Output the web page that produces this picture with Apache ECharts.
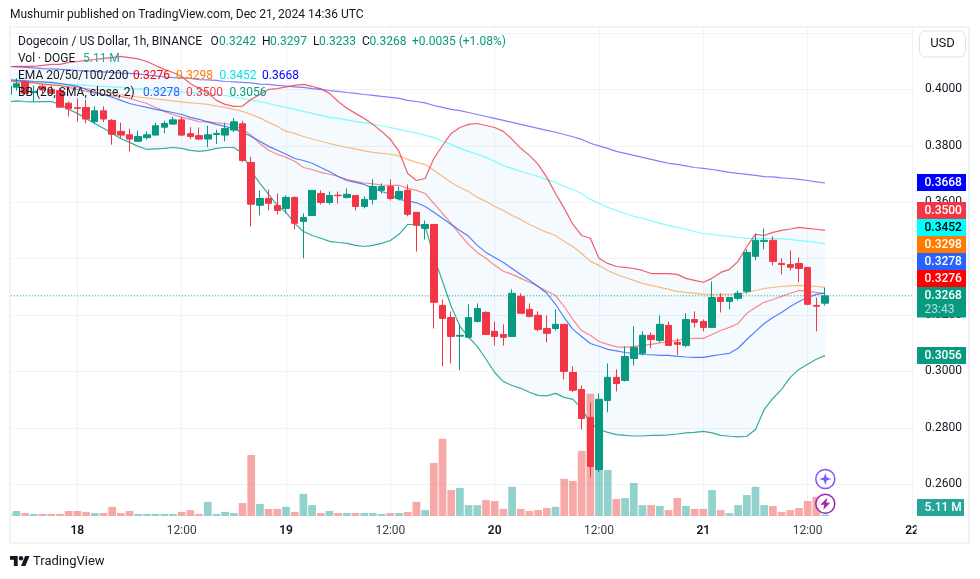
<!DOCTYPE html>
<html>
<head>
<meta charset="utf-8">
<title>DOGEUSD</title>
<script src="https://cdn.jsdelivr.net/npm/echarts@6/dist/echarts.min.js"></script>
<style>
  html, body { margin: 0; padding: 0; background: #fff; }
  #main { width: 980px; height: 579px; }
</style>
</head>
<body>
<div id="main"></div>
<script>
// hourly candles, first one is Dec 17 16:00 (only its right edge shows in the frame)
const opens = [.3982,.4008,.4028,.3989,.4011,.4000,.3996,.3951,.3935,.3936,.3886,.3924,.3890,.3851,.3839,.3816,.3829,.3838,.3866,.3877,.3892,.3843,.3836,.3824,.3840,.3838,.3856,.3878,.3741,.3589,.3613,.3588,.3578,.3617,.3532,.3553,.3631,.3599,.3625,.3617,.3624,.3585,.3610,.3642,.3656,.3613,.3642,.3564,.3507,.3521,.3234,.3191,.3125,.3121,.3177,.3209,.3142,.3131,.3124,.3266,.3220,.3199,.3152,.3152,.3167,.2996,.2936,.2837,.2652,.2897,.2979,.2968,.3046,.3064,.3128,.3110,.3163,.3103,.3092,.3184,.3177,.3156,.3262,.3248,.3259,.3284,.3408,.3461,.3465,.3383,.3379,.3383,.3369,.3234,.3242];
const closes = [.4011,.4020,.3986,.3993,.3998,.3986,.3937,.3931,.3933,.3895,.3924,.3895,.3841,.3838,.3824,.3833,.3839,.3871,.3879,.3892,.3838,.3833,.3824,.3839,.3844,.3861,.3885,.3748,.3593,.3613,.3596,.3571,.3617,.3525,.3546,.3642,.3599,.3624,.3623,.3628,.3585,.3610,.3656,.3656,.3613,.3638,.3557,.3518,.3521,.3245,.3188,.3124,.3128,.3191,.3223,.3131,.3124,.3121,.3277,.3206,.3195,.3149,.3135,.3167,.3000,.2933,.2833,.2663,.2901,.2979,.2957,.3053,.3085,.3128,.3113,.3167,.3092,.3096,.3184,.3174,.3156,.3262,.3248,.3262,.3277,.3422,.3465,.3465,.3390,.3379,.3369,.3365,.3238,.3231,.3268];
const highs = [.4011,.4039,.4029,.4014,.4018,.4014,.4003,.3957,.3968,.3964,.3940,.3940,.3895,.3882,.3861,.3854,.3851,.3882,.3889,.3903,.3903,.3866,.3865,.3871,.3857,.3882,.3898,.3889,.3761,.3642,.3645,.3631,.3624,.3621,.3560,.3642,.3642,.3638,.3638,.3649,.3624,.3621,.3681,.3667,.3681,.3656,.3663,.3564,.3535,.3521,.3255,.3213,.3167,.3238,.3241,.3213,.3177,.3167,.3291,.3277,.3241,.3213,.3199,.3220,.3167,.3018,.2950,.2890,.2922,.3028,.3007,.3089,.3160,.3142,.3138,.3199,.3177,.3117,.3206,.3213,.3184,.3319,.3277,.3262,.3287,.3433,.3489,.3507,.3479,.3401,.3429,.3404,.3369,.3262,.3297];
const lows = [.3982,.3996,.3982,.3957,.3986,.3982,.3936,.3904,.3886,.3880,.3877,.3884,.3804,.3827,.3780,.3816,.3822,.3837,.3845,.3875,.3834,.3824,.3820,.3795,.3806,.3816,.3849,.3742,.3514,.3553,.3571,.3557,.3560,.3504,.3401,.3553,.3592,.3592,.3596,.3613,.3571,.3578,.3592,.3631,.3606,.3606,.3550,.3425,.3468,.3152,.3018,.3028,.3004,.3117,.3174,.3131,.3092,.3092,.3124,.3206,.3191,.3142,.3103,.3145,.2972,.2926,.2794,.2624,.2642,.2855,.2929,.2964,.3021,.3057,.3082,.3103,.3092,.3057,.3085,.3156,.3142,.3156,.3209,.3220,.3252,.3277,.3394,.3433,.3376,.3344,.3358,.3316,.3234,.3142,.3233];
// volume in millions of DOGE
const volumes = [10,17,10,7,7,7,7,17,17,14,10,10,31,10,17,7,7,7,7,7,14,20,7,48,7,14,10,44,207,41,24,24,31,14,75,37,10,17,10,10,10,10,10,7,10,10,14,48,20,180,262,88,95,37,37,54,51,24,99,24,17,20,27,31,126,119,221,415,211,156,58,61,112,37,37,34,20,61,34,24,24,88,20,10,37,71,99,37,34,14,20,27,51,65,5.11];

const ema20 = [.4030,.4027,.4025,.4023,.4019,.4016,.4014,.4007,.4000,.3993,.3988,.3982,.3977,.3975,.3968,.3959,.3950,.3936,.3922,.3911,.3901,.3894,.3886,.3885,.3881,.3879,.3872,.3858,.3837,.3808,.3784,.3770,.3759,.3745,.3723,.3716,.3706,.3699,.3691,.3681,.3674,.3668,.3665,.3661,.3660,.3660,.3649,.3642,.3631,.3596,.3560,.3525,.3486,.3450,.3422,.3401,.3376,.3355,.3344,.3330,.3316,.3301,.3284,.3269,.3230,.3184,.3145,.3128,.3106,.3096,.3087,.3085,.3089,.3092,.3096,.3101,.3106,.3110,.3115,.3117,.3117,.3131,.3145,.3156,.3170,.3206,.3227,.3245,.3255,.3266,.3277,.3287,.3284,.3280,.3276];
const ema50 = [.4030,.4028,.4025,.4023,.4019,.4016,.4012,.4011,.4007,.4003,.4000,.3996,.3989,.3982,.3977,.3973,.3970,.3966,.3963,.3959,.3956,.3952,.3950,.3947,.3941,.3936,.3929,.3922,.3911,.3899,.3883,.3869,.3851,.3844,.3833,.3824,.3816,.3808,.3801,.3794,.3789,.3782,.3777,.3773,.3770,.3764,.3752,.3741,.3734,.3713,.3691,.3670,.3652,.3638,.3617,.3603,.3585,.3571,.3553,.3539,.3521,.3507,.3493,.3482,.3461,.3443,.3418,.3390,.3376,.3358,.3344,.3333,.3323,.3312,.3305,.3298,.3291,.3284,.3280,.3277,.3273,.3273,.3273,.3273,.3273,.3280,.3287,.3294,.3298,.3301,.3303,.3305,.3303,.3301,.3298];
const ema100 = [.4036,.4034,.4032,.4028,.4025,.4023,.4019,.4018,.4016,.4014,.4012,.4011,.4009,.4007,.4003,.4002,.4000,.3996,.3995,.3993,.3991,.3989,.3987,.3986,.3982,.3979,.3973,.3968,.3961,.3957,.3950,.3943,.3936,.3929,.3922,.3915,.3908,.3901,.3897,.3892,.3886,.3881,.3876,.3871,.3865,.3858,.3851,.3846,.3837,.3830,.3816,.3805,.3791,.3780,.3770,.3759,.3745,.3730,.3720,.3709,.3700,.3691,.3681,.3670,.3656,.3645,.3631,.3610,.3596,.3582,.3571,.3560,.3550,.3543,.3534,.3525,.3518,.3511,.3504,.3496,.3489,.3486,.3482,.3479,.3475,.3472,.3472,.3472,.3472,.3470,.3468,.3464,.3461,.3457,.3452];
const ema200 = [.4082,.4080,.4078,.4076,.4074,.4073,.4071,.4069,.4067,.4066,.4064,.4062,.4060,.4058,.4057,.4055,.4051,.4048,.4044,.4042,.4041,.4039,.4035,.4034,.4032,.4028,.4027,.4025,.4023,.4019,.4018,.4014,.4012,.4009,.4007,.4003,.4000,.3996,.3993,.3989,.3986,.3982,.3979,.3975,.3972,.3968,.3961,.3957,.3952,.3943,.3936,.3929,.3925,.3918,.3911,.3904,.3897,.3890,.3883,.3876,.3869,.3862,.3855,.3848,.3840,.3832,.3823,.3809,.3800,.3791,.3780,.3773,.3766,.3759,.3752,.3745,.3738,.3734,.3729,.3723,.3720,.3716,.3711,.3706,.3702,.3699,.3695,.3691,.3690,.3686,.3684,.3681,.3677,.3672,.3668];
const bbBasis = [.4034,.4032,.4030,.4028,.4027,.4025,.4021,.4016,.4011,.4000,.3989,.3982,.3972,.3961,.3950,.3943,.3936,.3929,.3924,.3918,.3911,.3901,.3894,.3885,.3876,.3869,.3860,.3847,.3833,.3816,.3798,.3784,.3770,.3755,.3748,.3738,.3723,.3709,.3691,.3677,.3670,.3663,.3649,.3638,.3628,.3610,.3605,.3598,.3585,.3564,.3543,.3521,.3500,.3479,.3447,.3422,.3404,.3386,.3365,.3344,.3323,.3301,.3277,.3238,.3191,.3149,.3124,.3099,.3089,.3078,.3073,.3067,.3064,.3060,.3059,.3057,.3057,.3053,.3051,.3050,.3050,.3055,.3060,.3064,.3082,.3113,.3142,.3170,.3191,.3209,.3230,.3248,.3262,.3273,.3278];
const bbUpper = [.4080,.4082,.4082,.4082,.4085,.4089,.4089,.4096,.4099,.4103,.4106,.4110,.4113,.4117,.4113,.4108,.4099,.4085,.4071,.4060,.4046,.4021,.4003,.3986,.3961,.3947,.3940,.3941,.3965,.3982,.4000,.4003,.4009,.4014,.4018,.4011,.4002,.3986,.3957,.3933,.3915,.3897,.3876,.3851,.3823,.3780,.3702,.3677,.3684,.3755,.3801,.3844,.3865,.3876,.3879,.3872,.3865,.3851,.3823,.3791,.3766,.3734,.3688,.3631,.3578,.3521,.3482,.3472,.3401,.3383,.3372,.3369,.3365,.3358,.3347,.3347,.3347,.3344,.3330,.3323,.3316,.3330,.3351,.3362,.3390,.3443,.3486,.3482,.3493,.3500,.3505,.3511,.3507,.3504,.3500];
const bbLower = [.3955,.3959,.3957,.3956,.3957,.3957,.3947,.3929,.3915,.3897,.3879,.3862,.3844,.3826,.3812,.3798,.3787,.3789,.3791,.3794,.3791,.3784,.3780,.3784,.3791,.3794,.3794,.3773,.3709,.3667,.3628,.3589,.3564,.3525,.3496,.3482,.3472,.3461,.3457,.3454,.3447,.3443,.3447,.3454,.3464,.3486,.3521,.3521,.3514,.3408,.3319,.3230,.3160,.3121,.3089,.3043,.2996,.2964,.2950,.2940,.2926,.2915,.2913,.2922,.2908,.2901,.2869,.2816,.2794,.2784,.2776,.2773,.2771,.2771,.2773,.2773,.2775,.2778,.2782,.2784,.2787,.2782,.2773,.2770,.2768,.2770,.2794,.2865,.2904,.2936,.2979,.3007,.3025,.3043,.3056];

const lastPrice = 0.3268;
const priceLabels = ['0.3668','0.3500','0.3452','0.3298','0.3278','0.3276','0.3268','0.3056'];

const GREEN = '#089981', RED = '#f23645', INK = '#131722';
const FONT = 'Roboto, sans-serif';

// Dec 17 16:00 up to Dec 22 00:00
const categories = [];
for (let i = 0, t = Date.UTC(2024, 11, 17, 16); i <= 104; i++, t += 3600000) {
  const d = new Date(t);
  categories.push(d.getUTCHours() === 0 ? '{day|' + d.getUTCDate() + '}' : d.getUTCHours() + ':00');
}
const isTick = (i) => i % 12 === 8;

const candleData = opens.map((o, i) => [o, closes[i], lows[i], highs[i]]);
const volumeData = volumes.map((v, i) => ({
  value: v,
  itemStyle: { color: closes[i] >= opens[i] ? 'rgba(38,166,154,0.5)' : 'rgba(239,83,80,0.5)' }
}));

const lineSeries = (name, data, color) => ({
  name, type: 'line', data, xAxisIndex: 0, yAxisIndex: 0, z: 3,
  showSymbol: false, silent: true, lineStyle: { color, width: 1.2 }
});

// fill between the Bollinger bands
const bandSeries = {
  type: 'custom', xAxisIndex: 0, yAxisIndex: 0, z: 1, silent: true, data: [[0, 0]],
  renderItem: (params, api) => {
    const top = bbUpper.map((v, i) => api.coord([i, v]));
    const bottom = bbLower.map((v, i) => api.coord([i, v])).reverse();
    return { type: 'polygon', shape: { points: top.concat(bottom) }, style: { fill: 'rgba(33,150,243,0.05)' } };
  }
};

function text(str, x, y, fill, font) {
  return { type: 'text', z: 101, silent: true,
    style: { text: str, x, y, fill, font: font || ('12px ' + FONT), verticalAlign: 'middle' } };
}

function tag(str, y, h, bg, color) {
  return [
    { type: 'rect', z: 100, silent: true, shape: { x: 917, y, width: 49, height: h }, style: { fill: bg } },
    text(str, 924.5, y + 8.5, color || '#fff', '500 12px ' + FONT)
  ];
}

function legendRow(y, parts) {
  return parts.map((p) => text(p[0], p[1], y, p[2] || INK));
}

const purple = '#7e57ff', magenta = '#9c27b0';
const shifted = (pts, dx, dy, k) => pts.map((p) => [dx + p[0] * k, dy + p[1] * k]);

const graphics = [
  // hides what hangs out left of the frame and the tip of the last time label
  { type: 'rect', z: 50, silent: true, shape: { x: 0, y: 0, width: 10, height: 579 }, style: { fill: '#fff' } },
  { type: 'rect', z: 50, silent: true, shape: { x: 916.5, y: 518, width: 6, height: 24 }, style: { fill: '#fff' } },
  { type: 'rect', z: 99, silent: true, shape: { x: 10, y: 27, width: 959, height: 516 },
    style: { fill: 'none', stroke: '#f0f3fa', lineWidth: 2 } },

  text('Mushumir published on TradingView.com, Dec 21, 2024 14:36 UTC', 10, 15, INK),

  ...legendRow(42, [['Dogecoin / US Dollar, 1h, BINANCE', 18], ['O', 210.5], ['0.3242', 219, GREEN], ['H', 262], ['0.3297', 270, GREEN],
    ['L', 313], ['0.3233', 319, GREEN], ['C', 362], ['0.3268', 369.5, GREEN], ['+0.0035 (+1.08%)', 412, GREEN]]),
  ...legendRow(59, [['Vol · DOGE', 18], ['5.11 M', 83, '#26a69a']]),
  ...legendRow(75.5, [['EMA 20/50/100/200', 18], ['0.3276', 133, '#ff0000'], ['0.3298', 176, '#ff7b00'], ['0.3452', 219.5, '#00e5e5'], ['0.3668', 262, '#0000ff']]),
  ...legendRow(93, [['BB (20, SMA, close, 2)', 18], ['0.3278', 143, '#2962ff'], ['0.3500', 186, RED], ['0.3056', 229.5, GREEN]]),

  // currency button
  { type: 'rect', z: 100, silent: true, shape: { x: 919.5, y: 31, width: 46, height: 26, r: 6 },
    style: { fill: '#fff', stroke: '#e0e3eb', lineWidth: 1 } },
  { type: 'text', z: 101, silent: true, style: { text: 'USD', x: 942.5, y: 44, fill: INK, font: '13px ' + FONT, align: 'center', verticalAlign: 'middle' } },

  // price tags on the scale
  ...tag(priceLabels[0], 174, 17, '#0000ff'),
  ...tag(priceLabels[1], 202, 17, RED),
  ...tag(priceLabels[2], 219, 17, '#00ffff', '#000'),
  ...tag(priceLabels[3], 236, 17, '#ff7b00'),
  ...tag(priceLabels[4], 253, 17, '#2962ff'),
  ...tag(priceLabels[5], 270, 17, '#ff0000'),
  { type: 'rect', z: 100, silent: true, shape: { x: 917, y: 287, width: 49, height: 30.5 }, style: { fill: GREEN } },
  text(priceLabels[6], 924.5, 295.7, '#fff', '500 12px ' + FONT),
  text('23:43', 924.5, 309.5, 'rgba(255,255,255,0.7)'),
  ...tag(priceLabels[7], 347, 17, GREEN),
  { type: 'rect', z: 100, silent: true, shape: { x: 917, y: 499, width: 47, height: 17 }, style: { fill: '#26a69a' } },
  text('5.11 M', 924.5, 507.5, '#fff', '500 12px ' + FONT),

  // event markers
  { type: 'circle', z: 60, silent: true, shape: { cx: 825.3, cy: 479, r: 9.5 }, style: { fill: 'rgba(255,255,255,0.8)', stroke: purple, lineWidth: 1.5 } },
  { type: 'polygon', z: 61, silent: true, shape: { points: shifted([[0,-6],[1.4,-1.4],[6,0],[1.4,1.4],[0,6],[-1.4,1.4],[-6,0],[-1.4,-1.4]], 825.3, 479, 1) }, style: { fill: purple } },
  { type: 'circle', z: 60, silent: true, shape: { cx: 825.3, cy: 503.7, r: 9.5 }, style: { fill: 'rgba(255,255,255,0.8)', stroke: magenta, lineWidth: 1.5 } },
  { type: 'polygon', z: 61, silent: true, shape: { points: shifted([[2,-6],[-5,1],[-1,1],[-2,6],[5,-1],[1,-1]], 825.3, 503.7, 1) }, style: { fill: magenta } },

  // footer logo
  { type: 'polygon', z: 100, silent: true, shape: { points: shifted([[0,4],[14,4],[14,22],[7,22],[7,11],[0,11]], 10, 553.8, 0.55) }, style: { fill: INK } },
  { type: 'polygon', z: 100, silent: true, shape: { points: shifted([[27.5,4],[35.5,4],[28,22],[20,22]], 10, 553.8, 0.55) }, style: { fill: INK } },
  { type: 'circle', z: 100, silent: true, shape: { cx: 21, cy: 558.2, r: 2.2 }, style: { fill: INK } },
  text('TradingView', 33, 561.5, INK, '13px ' + FONT)
];

const chart = echarts.init(document.getElementById('main'));
chart.setOption({
  animation: false,
  backgroundColor: '#fff',
  textStyle: { fontFamily: FONT },
  grid: [
    { left: 7.8, width: 904.2, top: 33, height: 507.6 },
    { left: 7.8, width: 904.2, top: 27, height: 489 }
  ],
  xAxis: [
    { type: 'category', gridIndex: 0, data: categories, boundaryGap: false, show: false },
    { type: 'category', gridIndex: 1, data: categories, boundaryGap: false,
      axisLine: { show: false }, axisTick: { show: false },
      splitLine: { show: true, interval: isTick, lineStyle: { color: '#f0f3fa', width: 1 } },
      axisLabel: { interval: isTick, margin: 9, color: '#3c4048', fontSize: 12, hideOverlap: false,
        rich: { day: { color: INK, fontSize: 12, fontWeight: 600 } } } }
  ],
  yAxis: [
    { type: 'value', gridIndex: 0, position: 'right', min: 0.24, max: 0.42, interval: 0.02,
      axisLine: { show: false },
      axisTick: { show: true, length: 4, lineStyle: { color: '#f0f3fa' } },
      splitLine: { show: true, showMinLine: false, lineStyle: { color: '#f0f3fa', width: 1 } },
      axisLabel: { margin: 13, color: INK, fontSize: 12, showMinLabel: false, showMaxLabel: false, formatter: (v) => v.toFixed(4) } },
    { type: 'value', gridIndex: 1, min: 0, max: 1660, show: false }
  ],
  series: [
    bandSeries,
    { name: 'Vol', type: 'bar', xAxisIndex: 1, yAxisIndex: 1, data: volumeData, barWidth: 7.7, z: 2, silent: true },
    lineSeries('EMA 200', ema200, 'rgba(0,0,255,0.5)'),
    lineSeries('EMA 100', ema100, 'rgba(0,255,255,0.5)'),
    lineSeries('EMA 50', ema50, 'rgba(255,123,0,0.5)'),
    lineSeries('EMA 20', ema20, 'rgba(255,0,0,0.45)'),
    lineSeries('BB basis', bbBasis, 'rgba(41,98,255,0.8)'),
    lineSeries('BB upper', bbUpper, 'rgba(242,54,69,0.8)'),
    lineSeries('BB lower', bbLower, 'rgba(8,153,129,0.8)'),
    {
      // last price, dotted across the pane
      name: 'Last', type: 'line', xAxisIndex: 0, yAxisIndex: 0, z: 3, silent: true, showSymbol: false,
      data: categories.map(() => lastPrice),
      lineStyle: { color: GREEN, type: [1, 2], width: 1 }
    },
    { name: 'DOGEUSD', type: 'candlestick', xAxisIndex: 0, yAxisIndex: 0, data: candleData, barWidth: 7, z: 4, silent: true,
      itemStyle: { color: GREEN, color0: RED, borderColor: GREEN, borderColor0: RED, borderWidth: 1 } }
  ],
  graphic: { elements: graphics }
});
</script>
</body>
</html>
